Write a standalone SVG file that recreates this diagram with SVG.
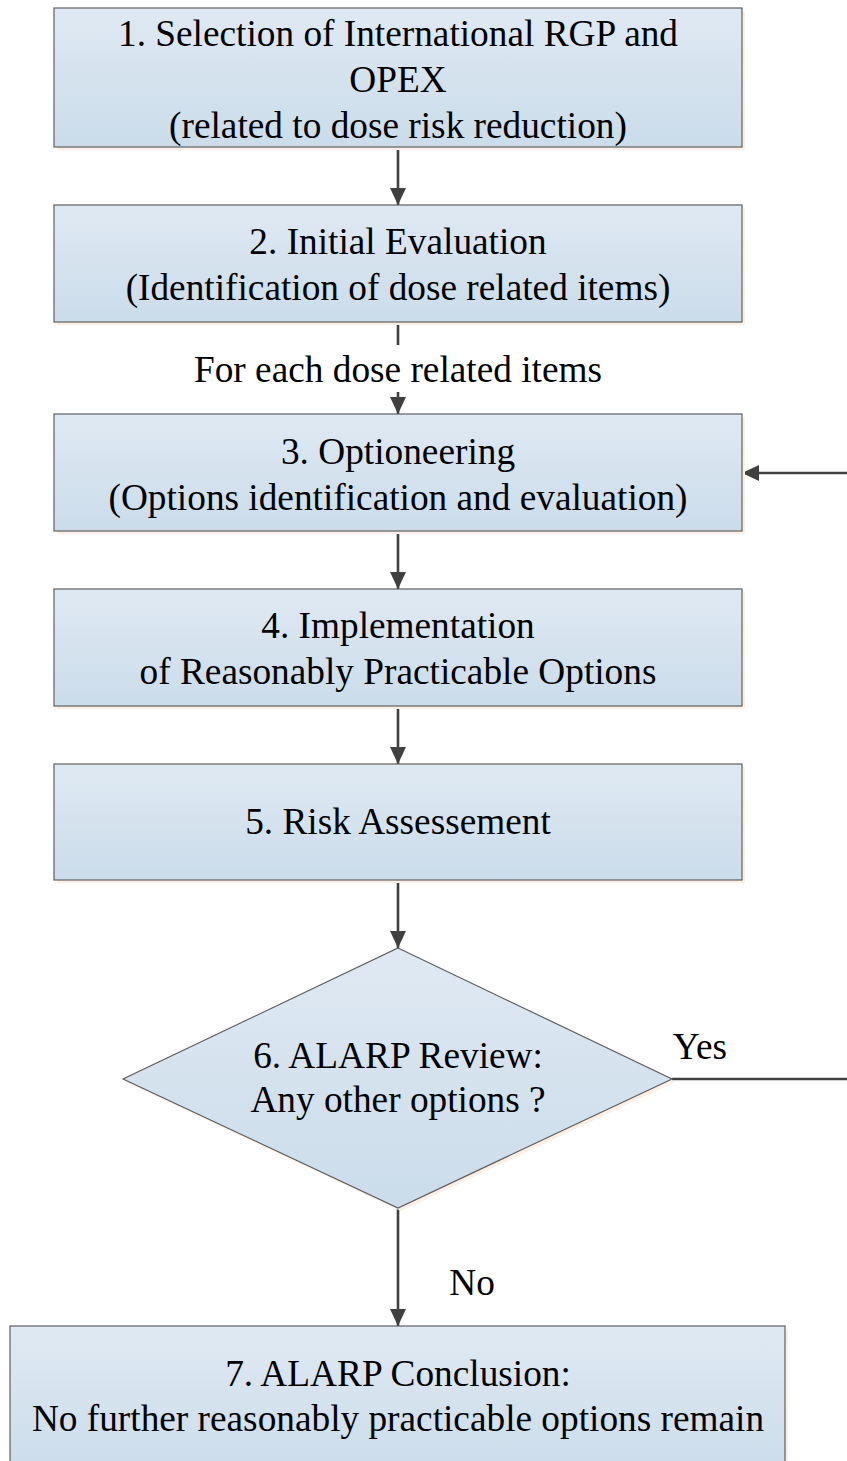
<svg xmlns="http://www.w3.org/2000/svg" width="847" height="1461" viewBox="0 0 847 1461">
<defs>
<linearGradient id="g" x1="0" y1="0" x2="0" y2="1">
<stop offset="0" stop-color="#dfe9f3"/>
<stop offset="1" stop-color="#cbdcea"/>
</linearGradient>
<marker id="ah" markerWidth="17" markerHeight="16" refX="17" refY="8" orient="auto" markerUnits="userSpaceOnUse">
<path d="M0 0 L17 8 L0 16 Z" fill="#404040"/>
</marker>
</defs>
<style>
.box{fill:url(#g);stroke:#5f5f5f;stroke-width:1.2}
.sh{fill:#fbefe6}
.t{font-family:"Liberation Serif","Times New Roman",serif;font-size:37.3px;fill:#000;text-anchor:middle}
.c{fill:none;stroke:#404040;stroke-width:2.6}
</style>
<rect width="847" height="1461" fill="#fff"/>
<g id="connectors">
<path class="c" d="M398 147 V205" marker-end="url(#ah)"/>
<path class="c" d="M398 322 V345 M398 392 V414" marker-end="url(#ah)"/>
<path class="c" d="M398 531 V589" marker-end="url(#ah)"/>
<path class="c" d="M398 706 V764" marker-end="url(#ah)"/>
<path class="c" d="M398 880 V948" marker-end="url(#ah)"/>
<path class="c" d="M398 1208 V1326" marker-end="url(#ah)"/>
<path class="c" d="M672 1079 H880 V473 H742" marker-end="url(#ah)"/>
<text class="t" x="398" y="382">For each dose related items</text>
<text class="t" x="700" y="1059">Yes</text>
<text class="t" x="472" y="1295">No</text>
</g>
<g id="n1">
<rect class="sh" x="57" y="11" width="688" height="139"/>
<rect class="box" x="54" y="8" width="688" height="139"/>
<text class="t" x="398" y="46">1. Selection of International RGP and</text>
<text class="t" x="398" y="92">OPEX</text>
<text class="t" x="398" y="138">(related to dose risk reduction)</text>
</g>
<g id="n2">
<rect class="sh" x="57" y="208" width="688" height="117"/>
<rect class="box" x="54" y="205" width="688" height="117"/>
<text class="t" x="398" y="254">2. Initial Evaluation</text>
<text class="t" x="398" y="300">(Identification of dose related items)</text>
</g>
<g id="n3">
<rect class="sh" x="57" y="417" width="688" height="117"/>
<rect class="box" x="54" y="414" width="688" height="117"/>
<text class="t" x="398" y="464">3. Optioneering</text>
<text class="t" x="398" y="510">(Options identification and evaluation)</text>
</g>
<g id="n4">
<rect class="sh" x="57" y="592" width="688" height="117"/>
<rect class="box" x="54" y="589" width="688" height="117"/>
<text class="t" x="398" y="638">4. Implementation</text>
<text class="t" x="398" y="684">of Reasonably Practicable Options</text>
</g>
<g id="n5">
<rect class="sh" x="57" y="767" width="688" height="116"/>
<rect class="box" x="54" y="764" width="688" height="116"/>
<text class="t" x="398" y="834">5. Risk Assessement</text>
</g>
<g id="n6">
<polygon class="sh" points="401,951 675,1082 401,1211 126,1082"/>
<polygon class="box" points="398,948 672,1079 398,1208 123,1079"/>
<text class="t" x="398" y="1068">6. ALARP Review:</text>
<text class="t" x="398" y="1112">Any other options ?</text>
</g>
<g id="n7">
<rect class="sh" x="13" y="1329" width="775" height="150"/>
<rect class="box" x="10" y="1326" width="775" height="150"/>
<text class="t" x="398" y="1386">7. ALARP Conclusion:</text>
<text class="t" x="398" y="1431">No further reasonably practicable options remain</text>
</g>
</svg>
